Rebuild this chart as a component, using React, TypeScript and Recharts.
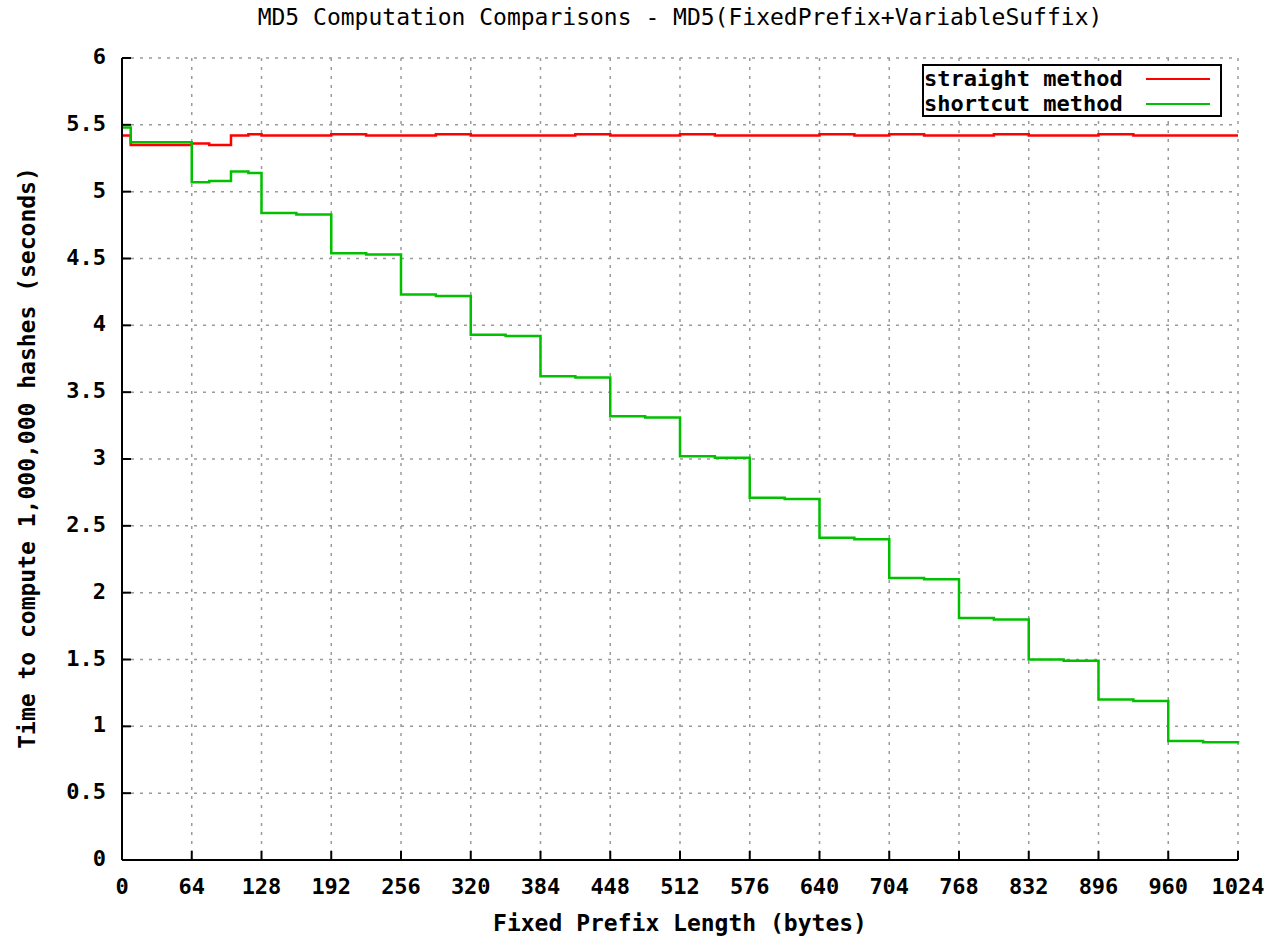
import { LineChart, Line, XAxis, YAxis, CartesianGrid } from 'recharts';

const prefixLen = [0, 8, 32, 64, 80, 100, 116, 128, 160, 192, 224, 256, 288, 320, 352, 384, 416, 448, 480, 512, 544, 576, 608, 640, 672, 704, 736, 768, 800, 832, 864, 896, 928, 960, 992, 1024];
const straight = [5.42, 5.35, 5.35, 5.36, 5.35, 5.42, 5.43, 5.42, 5.42, 5.43, 5.42, 5.42, 5.43, 5.42, 5.42, 5.42, 5.43, 5.42, 5.42, 5.43, 5.42, 5.42, 5.42, 5.43, 5.42, 5.43, 5.42, 5.42, 5.43, 5.42, 5.42, 5.43, 5.42, 5.42, 5.42, 5.42];
const shortcut = [5.48, 5.37, 5.37, 5.07, 5.08, 5.15, 5.14, 4.84, 4.83, 4.54, 4.53, 4.23, 4.22, 3.93, 3.92, 3.62, 3.61, 3.32, 3.31, 3.02, 3.01, 2.71, 2.70, 2.41, 2.40, 2.11, 2.10, 1.81, 1.80, 1.50, 1.49, 1.20, 1.19, 0.89, 0.88, 0.89];
const xTicks = [0, 64, 128, 192, 256, 320, 384, 448, 512, 576, 640, 704, 768, 832, 896, 960, 1024];
const yTicks = [0, 0.5, 1, 1.5, 2, 2.5, 3, 3.5, 4, 4.5, 5, 5.5, 6];

const data = prefixLen.map((x, i) => ({ x, straight: straight[i], shortcut: shortcut[i] }));

const FONT = "'DejaVu Sans Mono', monospace";
const RED = '#ff0000';
const GREEN = '#00c000';

const BottomTick = ({ x, y, payload }: any) => (
  <g>
    <line x1={x} x2={x} y1={y} y2={y - 9} stroke="#000" strokeWidth={2} />
    <text x={x} y={y + 28} textAnchor="middle" dominantBaseline="middle" fontFamily={FONT} fontWeight="bold" fontSize={22} fill="#000">
      {payload.value}
    </text>
  </g>
);

const LeftTick = ({ x, y, payload }: any) => (
  <g>
    <line x1={x} x2={x + 9} y1={y} y2={y} stroke="#000" strokeWidth={2} />
    <text x={x - 16} y={y} textAnchor="end" dominantBaseline="middle" fontFamily={FONT} fontWeight="bold" fontSize={22} fill="#000">
      {payload.value}
    </text>
  </g>
);

const TopTick = ({ x, y }: any) => <line x1={x} x2={x} y1={y} y2={y + 9} stroke="#000" strokeWidth={2} />;
const RightTick = ({ x, y }: any) => <line x1={x} x2={x - 9} y1={y} y2={y} stroke="#000" strokeWidth={2} />;

export default function App() {
  return (
    <div style={{ position: 'absolute', left: 0, top: 0, width: 1279, height: 938, background: '#fff', fontFamily: FONT }}>
      <div style={{ position: 'absolute', top: 4, left: 0, width: 1360, textAlign: 'center', fontSize: 23, color: '#000' }}>
        MD5 Computation Comparisons - MD5(FixedPrefix+VariableSuffix)
      </div>

      <LineChart width={1279} height={938} data={data} margin={{ top: 58, right: 41, bottom: 48, left: 72 }}>
        <CartesianGrid stroke="#9a9a9a" strokeDasharray="3 6" strokeWidth={1.5} />
        <XAxis dataKey="x" type="number" domain={[0, 1024]} ticks={xTicks} interval={0} height={30}
          axisLine={{ stroke: '#000', strokeWidth: 2 }} tickLine={false} tickSize={0} tickMargin={0} tick={<BottomTick />} />
        <XAxis xAxisId="top" orientation="top" dataKey="x" type="number" domain={[0, 1024]} ticks={xTicks} interval={0} height={0}
          axisLine={{ stroke: '#000', strokeWidth: 2 }} tickLine={false} tickSize={0} tickMargin={0} tick={<TopTick />} />
        <YAxis type="number" domain={[0, 6]} ticks={yTicks} interval={0} width={50}
          axisLine={{ stroke: '#000', strokeWidth: 2 }} tickLine={false} tickSize={0} tickMargin={0} tick={<LeftTick />} />
        <YAxis yAxisId="right" orientation="right" type="number" domain={[0, 6]} ticks={yTicks} interval={0} width={0}
          axisLine={{ stroke: '#000', strokeWidth: 2 }} tickLine={false} tickSize={0} tickMargin={0} tick={<RightTick />} />
        <Line type="stepAfter" dataKey="straight" stroke={RED} strokeWidth={2.5} dot={false} isAnimationActive={false} />
        <Line type="stepAfter" dataKey="shortcut" stroke={GREEN} strokeWidth={2.5} dot={false} isAnimationActive={false} />
      </LineChart>

      <div style={{ position: 'absolute', left: 922, top: 64, width: 300, height: 53, border: '2px solid #000', boxSizing: 'border-box', background: '#fff' }}>
        {[{ name: 'straight method', color: RED }, { name: 'shortcut method', color: GREEN }].map((d) => (
          <div key={d.name} style={{ display: 'flex', alignItems: 'center', height: 25, fontSize: 22, fontWeight: 'bold', color: '#000' }}>
            <span style={{ width: 210 }}>{d.name}</span>
            <span style={{ display: 'inline-block', width: 64, height: 2, background: d.color, marginLeft: 12 }} />
          </div>
        ))}
      </div>

      <div style={{ position: 'absolute', left: 0, top: 910, width: 1360, textAlign: 'center', fontSize: 23, fontWeight: 'bold', color: '#000' }}>
        Fixed Prefix Length (bytes)
      </div>
      <div style={{ position: 'absolute', left: 27, top: 459, width: 700, marginLeft: -350, marginTop: -14, textAlign: 'center', fontSize: 23, fontWeight: 'bold', color: '#000', transform: 'rotate(-90deg)' }}>
        Time to compute 1,000,000 hashes (seconds)
      </div>
    </div>
  );
}
